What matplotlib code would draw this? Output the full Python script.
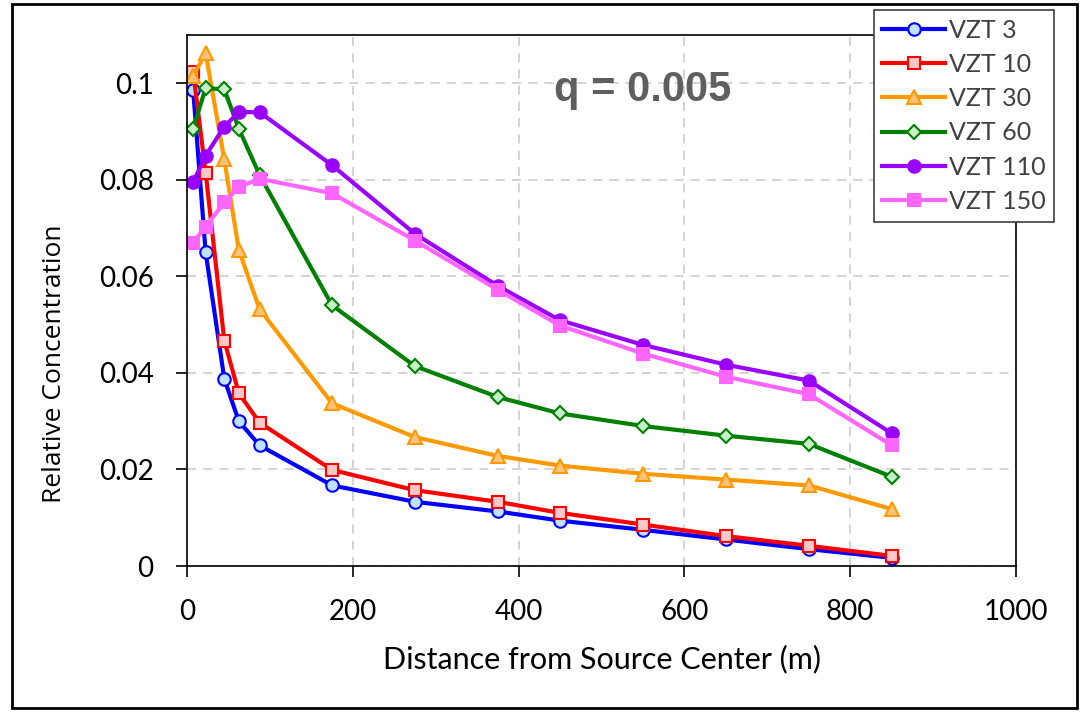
import matplotlib.pyplot as plt
from matplotlib.patches import Rectangle

plt.rcParams['font.family'] = ['Lato', 'DejaVu Sans']

# Distances from source center (m)
distance = [7.5, 22.5, 45, 62.5, 87.5, 175, 275, 375, 450, 550, 650, 750, 850]

vzt3 = [0.0985, 0.065, 0.0388, 0.0300, 0.0250, 0.0167, 0.0133, 0.0113, 0.0094,
        0.0075, 0.0055, 0.0035, 0.0017]
vzt10 = [0.1023, 0.0815, 0.0467, 0.0358, 0.0297, 0.0199, 0.0157, 0.0133, 0.0110,
         0.0086, 0.0062, 0.0042, 0.0021]
vzt30 = [0.1015, 0.1062, 0.0842, 0.0655, 0.0532, 0.0337, 0.0267, 0.0228, 0.0208,
         0.0191, 0.0179, 0.0167, 0.0118]
vzt60 = [0.0906, 0.0990, 0.0987, 0.0906, 0.0810, 0.0540, 0.0414, 0.0350, 0.0316,
         0.0290, 0.0270, 0.0253, 0.0185]
vzt110 = [0.0795, 0.0850, 0.0910, 0.0940, 0.0940, 0.0830, 0.0688, 0.0580, 0.0509,
          0.0458, 0.0417, 0.0384, 0.0275]
vzt150 = [0.0670, 0.0703, 0.0753, 0.0785, 0.0802, 0.0772, 0.0674, 0.0572, 0.0498,
          0.0440, 0.0392, 0.0356, 0.0250]

series = [
    ('VZT 3', vzt3, '#0000ff', 'o', '#bfe3ff'),
    ('VZT 10', vzt10, '#ff0000', 's', '#ffc8c8'),
    ('VZT 30', vzt30, '#ff9900', '^', '#ffc27a'),
    ('VZT 60', vzt60, '#008000', 'D', '#c8f0c8'),
    ('VZT 110', vzt110, '#9900ff', 'o', '#9900ff'),
    ('VZT 150', vzt150, '#ff66ff', 's', '#ff66ff'),
]

fig = plt.figure(figsize=(10.89, 7.12), dpi=100)
ax = fig.add_axes([0.1717, 0.205, 0.7613, 0.746])

for name, vals, col, mk, face in series:
    ms = 9 if mk != 'D' else 7.5
    if mk == '^':
        ms = 10
    ax.plot(distance, vals, color=col, lw=3, marker=mk, ms=ms,
            mfc=face, mec=col, mew=1.5, label=name)

ax.set_xlim(0, 1000)
ax.set_ylim(0, 0.11)
ax.set_xticks([0, 200, 400, 600, 800, 1000])
ax.set_yticks([0, 0.02, 0.04, 0.06, 0.08, 0.1])
ax.set_yticklabels(['0', '0.02', '0.04', '0.06', '0.08', '0.1'])
ax.tick_params(labelsize=20, length=8, width=1.2, colors='black')
ax.tick_params(axis='x', pad=16)
ax.tick_params(axis='y', pad=16)
ax.grid(True, color='#d0d0d0', linestyle=(0, (5, 4)), lw=1.3)
for s in ax.spines.values():
    s.set_color('black')
    s.set_linewidth(1.2)

ax.set_xlabel('Distance from Source Center (m)', fontsize=22, labelpad=14)
ax.set_ylabel('Relative Concentration', fontsize=19, family='Open Sans')
ax.yaxis.set_label_coords(-0.145, 0.38)

ax.text(550, 0.0985, 'q = 0.005', fontsize=30, fontweight='bold',
        family='Liberation Sans', color='#5f5f5f', ha='center', va='center')

leg = fig.legend(loc='upper right', bbox_to_anchor=(0.968, 0.986),
                 fontsize=18, handlelength=2.5, handletextpad=0.15,
                 labelspacing=0.45, borderpad=0.35, fancybox=False,
                 framealpha=1, edgecolor='#404040', borderaxespad=0)
leg.get_frame().set_linewidth(1.2)
for t in leg.get_texts():
    t.set_color('#404040')

# outer frame around the whole chart
fig.patches.append(Rectangle((0.011, 0.006), 0.978, 0.989, transform=fig.transFigure,
                             fill=False, edgecolor='black', lw=2))

fig.savefig('out.png', dpi=100)
